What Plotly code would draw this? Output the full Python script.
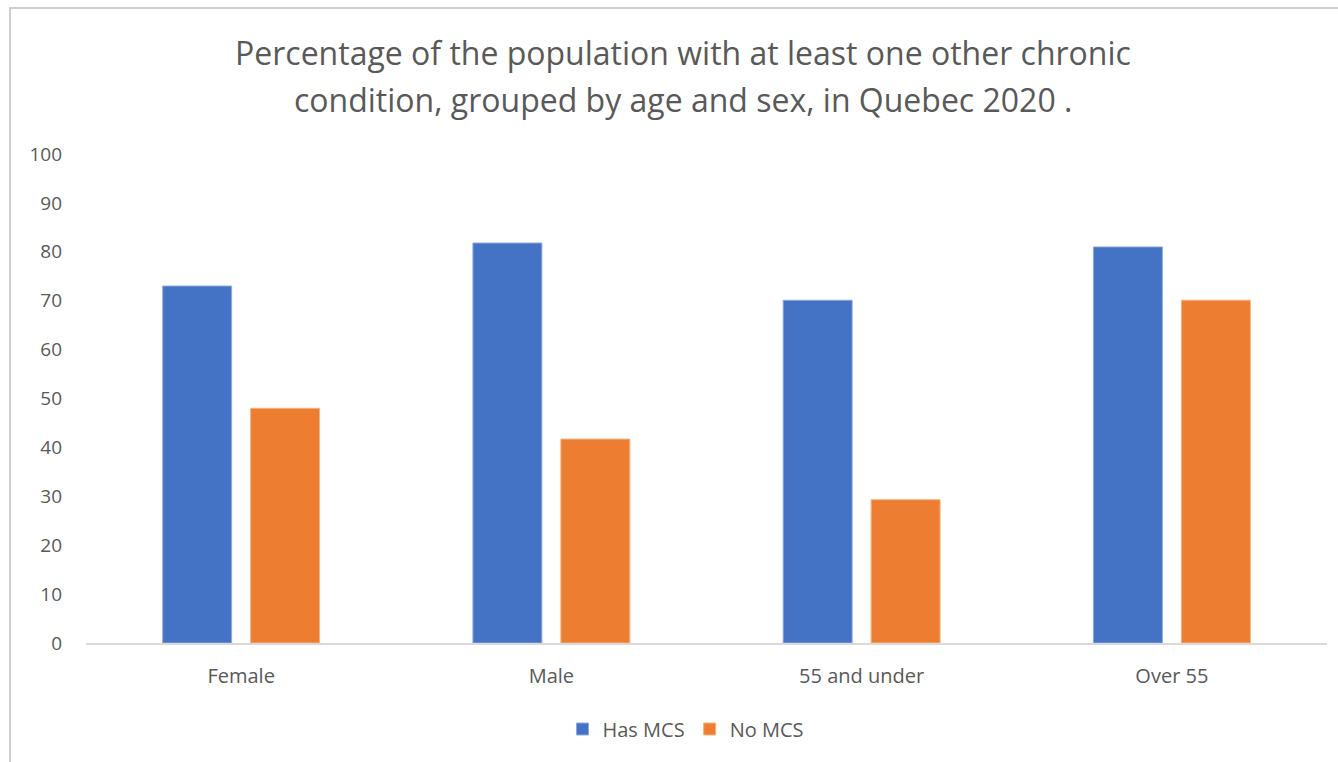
import plotly.graph_objects as go

categories = ["Female", "Male", "55 and under", "Over 55"]
has_mcs = [73, 81.8, 70.1, 81]
no_mcs = [48, 41.7, 29.3, 70.1]
y_ticks = [0, 10, 20, 30, 40, 50, 60, 70, 80, 90, 100]
title_lines = ["Percentage of the population with at least one other chronic",
               "condition, grouped by age and sex, in Quebec 2020 ."]

W, H = 1338, 762
L, R, T, B = 86, 11, 154, 119
pw, ph = W - L - R, H - T - B

fig = go.Figure()
fig.add_trace(go.Bar(name="Has MCS", x=categories, y=has_mcs,
                     marker=dict(color="#4472C4", line=dict(color="#8faadc", width=1))))
fig.add_trace(go.Bar(name="No MCS", x=categories, y=no_mcs,
                     marker=dict(color="#ED7D31", line=dict(color="#f4b183", width=1))))

font_family = "Open Sans, Liberation Sans, sans-serif"
fig.update_layout(
    width=W, height=H,
    margin=dict(l=L, r=R, t=T, b=B),
    paper_bgcolor="white", plot_bgcolor="white",
    barmode="group", bargap=0.433, bargroupgap=0.216,
    font=dict(family=font_family, color="#595959"),
    legend=dict(orientation="h", x=686 / W, xanchor="center", xref="container",
                y=1 - 729 / H, yref="container", yanchor="middle",
                font=dict(size=20, color="#595959"), traceorder="normal"),
    showlegend=True,
)
for line, yc in zip(title_lines, [52, 100]):
    fig.add_annotation(text=line, xref="paper", yref="paper",
                       x=(683 - L) / pw, y=(H - B - yc) / ph,
                       xanchor="center", yanchor="middle", showarrow=False,
                       font=dict(family=font_family, size=32, color="#595959"))

fig.update_xaxes(showline=True, linecolor="#d9d9d9", linewidth=2, showgrid=False,
                 ticks="", tickfont=dict(size=20, color="#595959"), ticklabelstandoff=14)
fig.update_yaxes(range=[0, 100], tickvals=y_ticks, showgrid=False, zeroline=False,
                 showline=False, ticks="", tickfont=dict(size=19, color="#595959"),
                 ticklabelstandoff=23)

# outer chart frame
x0 = (10 - L) / pw
y1 = (H - B - 8) / ph
fig.add_shape(type="rect", xref="paper", yref="paper", x0=x0, x1=1.5, y0=-0.5, y1=y1,
              line=dict(color="#bfbfbf", width=1.5), fillcolor="rgba(0,0,0,0)", layer="below")

fig.write_html("out.html", config={"displayModeBar": False},
               post_script="document.body.style.margin='0';document.body.style.overflow='hidden';")
